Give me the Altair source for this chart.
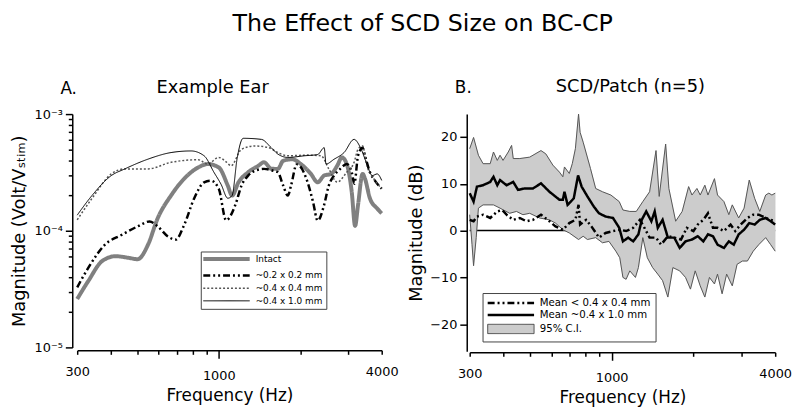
import altair as alt
import pandas as pd

FONT = "DejaVu Sans"

main_title = "The Effect of SCD Size on BC-CP"
panel_labels = ["A.", "B."]
panel_titles = ["Example Ear", "SCD/Patch (n=5)"]

# ---------------- Panel A: example ear (Volt/Vstim, log) ----------------
a_names = ["Intact", "~0.2 x 0.2 mm", "~0.4 x 0.4 mm", "~0.4 x 1.0 mm"]

intact_f = [300, 330, 371, 416, 464, 502, 548, 595, 667, 745, 840, 910, 1000, 1080,
            1120, 1183, 1284, 1400, 1470, 1563, 1654, 1730, 1870, 2010, 2190, 2320,
            2450, 2600, 2740, 2850, 2970, 3100, 3190, 3270, 3400, 3470, 3620, 3850, 4000]
intact_v = [2.6e-5, 3.72e-5, 5.5e-5, 6.05e-5, 5.86e-5, 5.7e-5, 7.6e-5, 1.28e-4, 2.01e-4,
            2.79e-4, 3.49e-4, 3.73e-4, 3.49e-4, 2.44e-4, 2.0e-4, 2.6e-4, 3.17e-4, 3.61e-4,
            3.86e-4, 3.4e-4, 3.39e-4, 3.98e-4, 4.1e-4, 3.73e-4, 3.07e-4, 2.6e-4, 2.97e-4,
            3.07e-4, 3.61e-4, 4.25e-4, 3.73e-4, 2.15e-4, 1.1e-4, 1.66e-4, 3.07e-4, 2.79e-4,
            1.89e-4, 1.55e-4, 1.41e-4]

dash_f = [300, 330, 380, 437, 502, 555, 595, 650, 694, 745, 811, 883, 935, 1000, 1065,
          1151, 1214, 1284, 1360, 1470, 1588, 1654, 1730, 1800, 1850, 1940, 1990, 2130,
          2230, 2320, 2450, 2550, 2667, 2810, 2970, 3100, 3170, 3270, 3400, 3470, 3620,
          3770, 4000]
dash_v = [3.27e-5, 4.83e-5, 7.6e-5, 9.2e-5, 1.09e-4, 1.2e-4, 1.09e-4, 8.9e-5, 8.4e-5,
          1.12e-4, 1.89e-4, 2.6e-4, 2.69e-4, 2.29e-4, 1.23e-4, 1.66e-4, 2.44e-4, 2.97e-4,
          3.27e-4, 3.39e-4, 3.27e-4, 3.17e-4, 2.44e-4, 2.0e-4, 2.44e-4, 3.7e-4, 3.6e-4,
          2.6e-4, 1.77e-4, 1.22e-4, 1.66e-4, 2.44e-4, 2.97e-4, 3.39e-4, 3.73e-4, 3.17e-4,
          2.53e-4, 4.39e-4, 5.15e-4, 4.39e-4, 3.17e-4, 2.7e-4, 2.29e-4]

dotted_f = [300, 340, 401, 450, 548, 667, 840, 910, 1000, 1070, 1110, 1214, 1360, 1529,
            1654, 1800, 2130, 2390, 2550, 2740, 2970, 3163, 3270, 3400, 3527, 3740, 4000]
dotted_v = [1.24e-4, 1.89e-4, 3.07e-4, 3.39e-4, 3.39e-4, 3.86e-4, 4.06e-4, 3.73e-4,
            4.25e-4, 3.86e-4, 3.6e-4, 5.0e-4, 5.33e-4, 5.15e-4, 4.68e-4, 4.39e-4, 4.45e-4,
            4.39e-4, 3.39e-4, 2.61e-4, 3.17e-4, 3.86e-4, 5.0e-4, 5.33e-4, 3.61e-4, 2.79e-4,
            2.3e-4]

thin_f = [300, 340, 401, 450, 548, 667, 790, 883, 960, 1020, 1080, 1120, 1170, 1231, 1437,
          1563, 1654, 1800, 2073, 2320, 2453, 2490, 2667, 2904, 3163, 3339, 3527, 3690,
          3850, 4000]
thin_v = [1.36e-4, 2.0e-4, 2.97e-4, 3.39e-4, 4.11e-4, 4.68e-4, 4.83e-4, 4.39e-4, 3.17e-4,
          2.5e-4, 1.9e-4, 2.0e-4, 4.2e-4, 6.2e-4, 6.07e-4, 5.15e-4, 4.54e-4, 4.25e-4,
          4.39e-4, 4.5e-4, 5.15e-4, 3.73e-4, 4.1e-4, 4.68e-4, 6.07e-4, 5.15e-4, 3.73e-4,
          2.97e-4, 3.07e-4, 2.7e-4]

# ---------------- Panel B: SCD/Patch (dB) ----------------
b_names = ["Mean < 0.4 x 0.4 mm", "Mean ~0.4 x 1.0 mm", "95% C.I."]

upper_f = [300, 310, 323, 336, 357, 367, 379, 388, 398, 416, 428, 434, 459, 499, 549, 572,
           607, 642, 661, 670, 698, 716, 735, 755, 765, 785, 835, 873, 925, 993, 1066, 1100,
           1166, 1232, 1302, 1379, 1456, 1496, 1580, 1624, 1720, 1818, 1920, 1975, 2060,
           2118, 2203, 2262, 2390, 2453, 2590, 2700, 2780, 2935, 3073, 3210, 3360, 3510,
           3690, 3790, 3890, 4000]
upper_v = [17.5, 19.9, 16.1, 14.3, 14.3, 16.8, 15.0, 16.1, 15.0, 16.8, 18.2, 15.4, 15.4,
           15.7, 17.1, 16.4, 14.0, 12.5, 11.5, 13.6, 12.2, 14.3, 17.5, 24.9, 21.0, 18.9,
           13.3, 9.0, 8.3, 7.6, 6.2, 4.4, 4.1, 4.1, 6.2, 8.3, 17.1, 7.3, 18.5, 9.0, 2.0,
           4.1, 9.4, 7.6, 9.0, 7.6, 9.7, 7.6, 11.1, 7.6, 6.2, 3.4, 5.5, 2.7, 4.8, 10.8, 6.9,
           4.1, 7.6, 8.0, 7.6, 8.0]

lower_f = [300, 306, 310, 317, 323, 336, 367, 388, 421, 446, 471, 499, 542, 590, 621, 661,
           698, 755, 785, 814, 873, 925, 977, 1036, 1071, 1100, 1130, 1166, 1223, 1254,
           1302, 1353, 1415, 1478, 1540, 1610, 1680, 1780, 1870, 1950, 2030, 2118, 2203,
           2290, 2390, 2453, 2550, 2650, 2780, 2895, 3030, 3160, 3320, 3480, 3690, 3850,
           4000]
lower_v = [3.4, -3.0, -7.5, -1.5, 4.8, 5.5, 5.5, 4.8, 3.7, 4.1, 3.4, 3.7, 2.7, 2.3, 1.6,
           0.2, -0.5, -1.9, -1.2, -1.9, -1.5, -2.6, -2.3, -4.4, -5.8, -10.0, -10.4, -8.6,
           -10.0, -7.9, -1.5, -5.8, -7.9, -9.3, -10.7, -14.2, -7.9, -8.6, -10.0, -12.5,
           -8.6, -11.8, -14.2, -10.0, -11.4, -9.3, -13.5, -9.3, -11.8, -7.2, -6.5, -6.5,
           -4.4, -3.0, -1.5, -3.0, -4.4]

big_f = [300, 310, 319, 336, 357, 367, 379, 388, 410, 434, 452, 477, 513, 549, 590, 642,
         661, 670, 688, 707, 725, 752, 775, 814, 860, 898, 950, 1011, 1066, 1100, 1150,
         1200, 1254, 1290, 1340, 1400, 1440, 1478, 1540, 1610, 1700, 1780, 1870, 1975,
         2075, 2175, 2262, 2360, 2453, 2590, 2700, 2815, 2935, 3073, 3210, 3360, 3510,
         3690, 3850, 4000]
big_v = [8.0, 6.2, 9.4, 9.7, 10.4, 11.5, 9.7, 10.8, 9.7, 10.4, 8.7, 9.0, 9.0, 10.1, 8.3,
         6.6, 6.6, 8.3, 5.5, 6.2, 6.9, 11.8, 9.4, 7.3, 5.1, 3.7, 3.0, 2.7, 0.6, -2.3, -1.5,
         -2.3, -0.8, 2.3, 4.1, 2.0, 4.1, 0.6, 2.3, -1.5, -1.5, -3.7, -2.3, -1.9, -1.2, -2.3,
         -0.8, -1.2, -3.0, -3.7, -2.3, -3.0, -0.8, 0.2, 1.6, 1.3, 2.3, 2.7, 2.0, 1.3]

small_f = [300, 310, 319, 336, 357, 379, 395, 410, 434, 459, 485, 513, 549, 590, 621, 661,
           698, 735, 755, 765, 805, 842, 898, 950, 1011, 1071, 1130, 1200, 1270, 1320, 1379,
           1456, 1520, 1610, 1700, 1800, 1890, 2000, 2075, 2175, 2262, 2360, 2453, 2590,
           2740, 2850, 2985, 3160, 3320, 3480, 3690, 3850, 4000]
small_v = [2.3, 2.0, 3.0, 3.4, 2.7, 4.1, 4.4, 3.4, 2.3, 2.7, 2.0, 2.3, 3.4, 2.0, 0.9, 0.2,
           1.6, 2.3, 5.5, 1.3, 2.3, 0.9, -1.5, -0.5, -0.1, 0.2, -0.1, 0.6, 2.3, 0.6, -1.5,
           -1.5, -3.0, -1.2, -1.5, -1.9, 0.6, -0.1, 1.3, 2.3, 3.7, 0.6, 0.6, -0.1, 1.3,
           -0.1, 1.3, 2.7, 3.4, 3.4, 2.7, 2.3, 2.0]

# ---------------- axes ticks ----------------
x_ticks = [300, 400, 500, 600, 700, 800, 900, 1000, 2000, 3000, 4000]
x_labeled = [300, 1000, 4000]
ya_ticks = [1e-5, 2e-5, 3e-5, 4e-5, 5e-5, 6e-5, 7e-5, 8e-5, 9e-5,
            1e-4, 2e-4, 3e-4, 4e-4, 5e-4, 6e-4, 7e-4, 8e-4, 9e-4, 1e-3]
yb_ticks = [-20, -10, 0, 10, 20]

# ---------------- build tables ----------------
def long_table(specs, widths):
    rows = []
    for (name, fs, vs), w in zip(specs, widths):
        for i, (f, v) in enumerate(zip(fs, vs)):
            rows.append({"series": name, "freq": f, "val": v, "i": i, "sw": w})
    return pd.DataFrame(rows)

df_a = long_table([(a_names[0], intact_f, intact_v), (a_names[1], dash_f, dash_v),
                   (a_names[2], dotted_f, dotted_v), (a_names[3], thin_f, thin_v)],
                  [4, 2.5, 1.5, 1])
df_b = long_table([(b_names[0], small_f, small_v), (b_names[1], big_f, big_v)], [2.5, 2.5])

poly_rows = []
k = 0
for f, v in zip(upper_f, upper_v):
    poly_rows.append({"freq": f, "val": v, "i": k}); k += 1
for f, v in zip(reversed(lower_f), reversed(lower_v)):
    poly_rows.append({"freq": f, "val": v, "i": k}); k += 1
df_poly = pd.DataFrame(poly_rows)

edge_rows = [{"edge": "upper", "freq": f, "val": v} for f, v in zip(upper_f, upper_v)] + \
            [{"edge": "lower", "freq": f, "val": v} for f, v in zip(lower_f, lower_v)]
df_edges = pd.DataFrame(edge_rows)

x_label_expr = f"indexof({x_labeled}, datum.value) >= 0 ? format(datum.value, 'd') : ''"

def x_axis(off):
    return alt.Axis(values=x_ticks, title="Frequency (Hz)", labelExpr=x_label_expr,
                    tickSize={"condition": {"test": "datum.value == 1000", "value": 8}, "value": 4},
                    labelPadding=11, labelFlush=False, labelOverlap=False, titlePadding=6,
                    offset=off)

xs = alt.Scale(type="log", domain=[300, 4000], nice=False)

# ---------------- Panel A ----------------
decade = "abs(log(datum.value)/LN10 - round(log(datum.value)/LN10)) < 0.01"
ya_label = ("abs(log(datum.value)/LN10 + 3) < 0.01 ? '10\u207b\u00b3' : "
            "abs(log(datum.value)/LN10 + 4) < 0.01 ? '10\u207b\u2074' : "
            "abs(log(datum.value)/LN10 + 5) < 0.01 ? '10\u207b\u2075' : ''")

legend_a = alt.Legend(
    title=None, orient="none", legendX=125, legendY=139,
    symbolType="M-20,0H20", symbolSize=5.5, symbolOffset=18.5, labelOffset=25,
    labelFont=FONT, labelFontSize=9, labelColor="black", rowPadding=2.8,
    padding=3, strokeColor="#444444", fillColor="white",
    symbolStrokeWidth={"expr":
        f"datum.value == '{a_names[0]}' ? 4 : datum.value == '{a_names[1]}' ? 2.5 : "
        f"datum.value == '{a_names[2]}' ? 1.5 : 1"},
)

lines_a = alt.Chart(df_a).mark_line(interpolate="monotone").encode(
    x=alt.X("freq:Q", scale=xs, axis=x_axis(3)),
    y=alt.Y("val:Q", scale=alt.Scale(type="log", domain=[1e-5, 1e-3], nice=False),
            axis=alt.Axis(values=ya_ticks, labelExpr=ya_label, labelOverlap=False,
                          title="Magnitude (Volt/V\u209b\u209c\u1d62\u2098)",
                          tickSize={"condition": {"test": decade, "value": 7}, "value": 4},
                          labelPadding=3, titlePadding=6, offset=5, titleFontSize=18)),
    color=alt.Color("series:N", scale=alt.Scale(domain=a_names,
                    range=["#808080", "black", "#555555", "black"]), legend=legend_a),
    strokeDash=alt.StrokeDash("series:N", scale=alt.Scale(domain=a_names,
                    range=[[1, 0], [7, 3, 2, 3, 2, 3], [2, 2], [1, 0]]), legend=legend_a),
    strokeWidth=alt.StrokeWidth("sw:Q", scale=None),
    order="i:Q",
)

label_a = alt.Chart(pd.DataFrame({"t": [panel_labels[0]]})).mark_text(
    align="left", baseline="alphabetic", font=FONT, fontSize=17, color="black"
).encode(x=alt.value(-17), y=alt.value(-20), text="t:N")

panel_a = alt.layer(lines_a, label_a).properties(
    width=308, height=236,
    title=alt.TitleParams(panel_titles[0], font=FONT, fontSize=18, fontWeight="normal",
                          anchor="middle", dx=-17, offset=-17, color="black"))

# ---------------- Panel B ----------------
ci = b_names[2]
legend_b = alt.Legend(
    title=None, orient="none", legendX=13, legendY=181,
    symbolType={"expr": f"datum.value == '{ci}' ? 'M-20,-4H20V4H-20Z' : 'M-20,0H20'"},
    symbolSize=5.5, symbolOffset=18.5, labelOffset=24,
    labelFont=FONT, labelFontSize=10.3, labelColor="black", rowPadding=1.1,
    padding=5, strokeColor="#444444", fillColor="white",
    symbolStrokeWidth={"expr": f"datum.value == '{ci}' ? 1 : 2.5"},
    symbolFillColor={"expr": f"datum.value == '{ci}' ? '#cccccc' : 'transparent'"},
)

yb = alt.Scale(domain=[-25.8, 24.9], nice=False, zero=False)
yb_axis = alt.Axis(values=yb_ticks, title="Magnitude (dB)", tickSize=7, labelPadding=3,
                   titlePadding=4, offset=3, titleFontSize=18)

zero_b = alt.Chart(pd.DataFrame({"z": [0]})).mark_rule(color="black", strokeWidth=1.5).encode(
    y=alt.Y("z:Q", scale=yb, axis=yb_axis))

poly_b = alt.Chart(df_poly).mark_line(fill="#cccccc", stroke="#cccccc", strokeWidth=0.5).encode(
    x=alt.X("freq:Q", scale=xs, axis=x_axis(1)),
    y=alt.Y("val:Q", scale=yb, axis=yb_axis),
    order="i:Q")

edges_b = alt.Chart(df_edges).mark_line(color="#555555", strokeWidth=1).encode(
    x=alt.X("freq:Q", scale=xs), y=alt.Y("val:Q", scale=yb), detail="edge:N")

lines_b = alt.Chart(df_b).mark_line().encode(
    x=alt.X("freq:Q", scale=xs),
    y=alt.Y("val:Q", scale=yb),
    color=alt.Color("series:N", scale=alt.Scale(domain=b_names,
                    range=["black", "black", "#444444"]), legend=legend_b),
    strokeDash=alt.StrokeDash("series:N", scale=alt.Scale(domain=b_names,
                    range=[[7, 3, 2, 3, 2, 3], [1, 0], [1, 0]]), legend=legend_b),
    strokeWidth=alt.StrokeWidth("sw:Q", scale=None),
    order="i:Q",
)

label_b = alt.Chart(pd.DataFrame({"t": [panel_labels[1]]})).mark_text(
    align="left", baseline="alphabetic", font=FONT, fontSize=17, color="black"
).encode(x=alt.value(-15), y=alt.value(-21), text="t:N")

panel_b = alt.layer(zero_b, poly_b, edges_b, lines_b, label_b).properties(
    width=309, height=240,
    title=alt.TitleParams(panel_titles[1], font=FONT, fontSize=18, fontWeight="normal",
                          anchor="middle", dx=8, offset=-17, color="black"))

chart = alt.hconcat(panel_a, panel_b, spacing=9).resolve_scale(
    color="independent", strokeDash="independent", x="independent", y="independent"
).resolve_legend(color="independent", strokeDash="independent").properties(
    title=alt.TitleParams(main_title, font=FONT, fontSize=24, fontWeight="normal",
                          anchor="middle", dx=22, offset=43, color="black"),
    padding={"left": 2, "top": 2, "right": 0, "bottom": 0},
).configure_view(stroke=None).configure_axis(
    grid=False, domainColor="black", domainWidth=1.5, tickColor="black", tickWidth=1.5,
    labelFont=FONT, labelFontSize=13, labelColor="black",
    titleFont=FONT, titleFontSize=17, titleFontWeight="normal", titleColor="black",
)

chart.save("out.html", embed_options={"renderer": "svg", "actions": False})
